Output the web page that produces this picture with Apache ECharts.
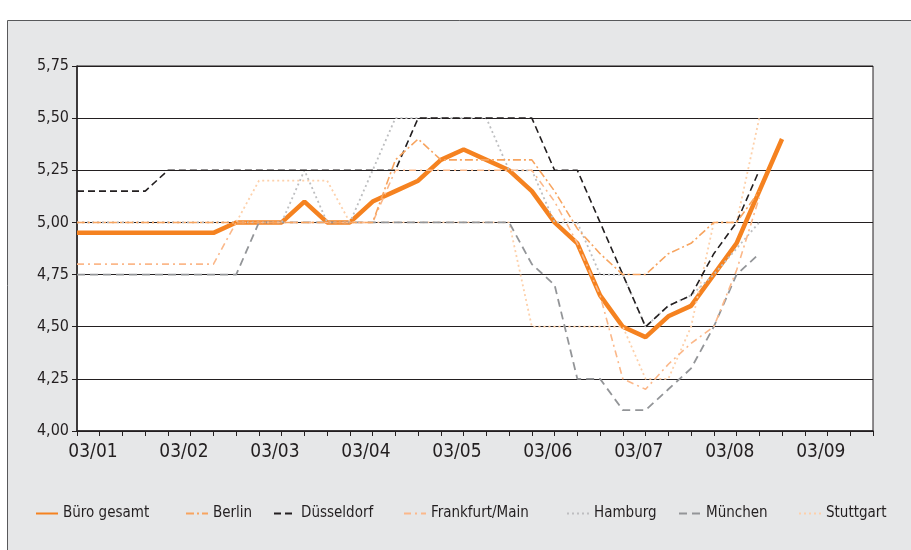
<!DOCTYPE html>
<html><head><meta charset="utf-8">
<script src="https://cdn.jsdelivr.net/npm/echarts@6/dist/echarts.min.js"></script>
<style>html,body{margin:0;padding:0;background:#fff}#c{width:911px;height:550px}</style>
</head><body><div id="c"></div>
<script>
const categories = ["03/01","06/01","09/01","12/01","03/02","06/02","09/02","12/02","03/03","06/03","09/03","12/03","03/04","06/04","09/04","12/04","03/05","06/05","09/05","12/05","03/06","06/06","09/06","12/06","03/07","06/07","09/07","12/07","03/08","06/08","09/08","12/08","03/09","06/09","09/09","12/09"];
const yTicks = [4.00,4.25,4.50,4.75,5.00,5.25,5.50,5.75];
const seriesNames = ["Büro gesamt","Berlin","Düsseldorf","Frankfurt/Main","Hamburg","München","Stuttgart"];
const bueroGesamt = [4.95,4.95,4.95,4.95,4.95,4.95,4.95,5.00,5.00,5.00,5.10,5.00,5.00,5.10,5.15,5.20,5.30,5.35,5.30,5.25,5.15,5.00,4.90,4.65,4.50,4.45,4.55,4.60,4.75,4.90,5.15,5.40];
const berlin = [5.00,5.00,5.00,5.00,5.00,5.00,5.00,5.00,5.00,5.00,5.00,5.00,5.00,5.00,5.30,5.40,5.30,5.30,5.30,5.30,5.30,5.15,4.97,4.85,4.75,4.75,4.85,4.90,5.00,5.00,5.15];
const duesseldorf = [5.15,5.15,5.15,5.15,5.25,5.25,5.25,5.25,5.25,5.25,5.25,5.25,5.25,5.25,5.25,5.50,5.50,5.50,5.50,5.50,5.50,5.25,5.25,5.00,4.75,4.50,4.60,4.65,4.85,5.00,5.25];
const frankfurt = [4.80,4.80,4.80,4.80,4.80,4.80,4.80,5.00,5.00,5.00,5.00,5.00,5.00,5.00,5.25,5.25,5.25,5.25,5.25,5.25,5.25,5.10,4.90,4.65,4.25,4.20,4.32,4.42,4.50,4.77,5.12];
const hamburg = [5.00,5.00,5.00,5.00,5.00,5.00,5.00,5.00,5.00,5.00,5.25,5.00,5.00,5.25,5.50,5.50,5.50,5.50,5.50,5.25,5.25,5.00,5.00,4.75,4.75,4.50,4.60,4.65,4.75,4.875,5.00];
const muenchen = [4.75,4.75,4.75,4.75,4.75,4.75,4.75,4.75,5.00,5.00,5.00,5.00,5.00,5.00,5.00,5.00,5.00,5.00,5.00,5.00,4.80,4.70,4.25,4.25,4.10,4.10,4.20,4.30,4.50,4.75,4.85];
const stuttgart = [5.00,5.00,5.00,5.00,5.00,5.00,5.00,5.00,5.20,5.20,5.20,5.20,5.00,5.00,5.00,5.00,5.00,5.00,5.00,5.00,4.50,4.50,4.50,4.50,4.50,4.25,4.25,4.50,5.00,5.00,5.50];

const FONT = "'Liberation Sans Narrow','DejaVu Sans Condensed','Roboto Condensed',sans-serif";
const styles = [
  {color:'#F58220', width:4.5, type:'solid'},
  {color:'#F7A45F', width:1.6, type:[8,3,2,3]},
  {color:'#231F20', width:1.6, type:[7,4]},
  {color:'#FBB88A', width:1.6, type:[7,4,2,4]},
  {color:'#BDBEC0', width:1.8, type:[2,3]},
  {color:'#939598', width:1.8, type:[8,5]},
  {color:'#FDD0AA', width:1.8, type:[2,3]}
];
const dataSets = [bueroGesamt,berlin,duesseldorf,frankfurt,hamburg,muenchen,stuttgart];
const legendLeft = [30,180,268,398,561,673,793];

const chart = echarts.init(document.getElementById('c'), null, {renderer:'canvas'});
const option = {
  animation:false,
  backgroundColor:'#ffffff',
  graphic:[{type:'rect', z:-10, shape:{x:7.5,y:20.5,width:910,height:540}, style:{fill:'#E6E7E8', stroke:'#58595B', lineWidth:1}}],
  grid:{left:77, right:38, top:66, bottom:119, show:true, backgroundColor:'#ffffff', borderColor:'#231F20', borderWidth:1},
  legend: seriesNames.map((n,i)=>({
    data:[n], left:legendLeft[i], top:501, itemWidth:22, itemHeight:12, itemGap:0,
    itemStyle:{opacity:0},
    textStyle:{fontFamily:FONT, fontSize:15, color:'#231F20'}
  })),
  xAxis:{type:'category', data:categories, boundaryGap:false,
    axisLine:{lineStyle:{color:'#231F20', width:1.5}},
    axisTick:{show:true, interval:0, length:5, inside:false, lineStyle:{color:'#231F20'}},
    axisLabel:{interval:3, margin:12, fontFamily:FONT, fontSize:19, color:'#231F20', padding:[0,0,0,32]},
    splitLine:{show:false}
  },
  yAxis:{type:'value', min:4, max:5.75, interval:0.25,
    axisLine:{show:true, lineStyle:{color:'#231F20', width:1.5}},
    axisTick:{show:true, length:5, lineStyle:{color:'#231F20'}},
    axisLabel:{margin:8, fontFamily:FONT, fontSize:16, color:'#231F20',
      formatter:v=>v.toFixed(2).replace('.',',')},
    splitLine:{show:true, lineStyle:{color:'#231F20', width:1}}
  },
  series: seriesNames.map((n,i)=>({
    name:n, type:'line', data:dataSets[i], symbol:'none', showSymbol:false,
    z: i===0 ? 2 : 3 - i*0.01,
    lineStyle:{color:styles[i].color, width:styles[i].width, type:styles[i].type},
    itemStyle:{color:styles[i].color}
  }))
};
chart.setOption(option);
</script></body></html>
